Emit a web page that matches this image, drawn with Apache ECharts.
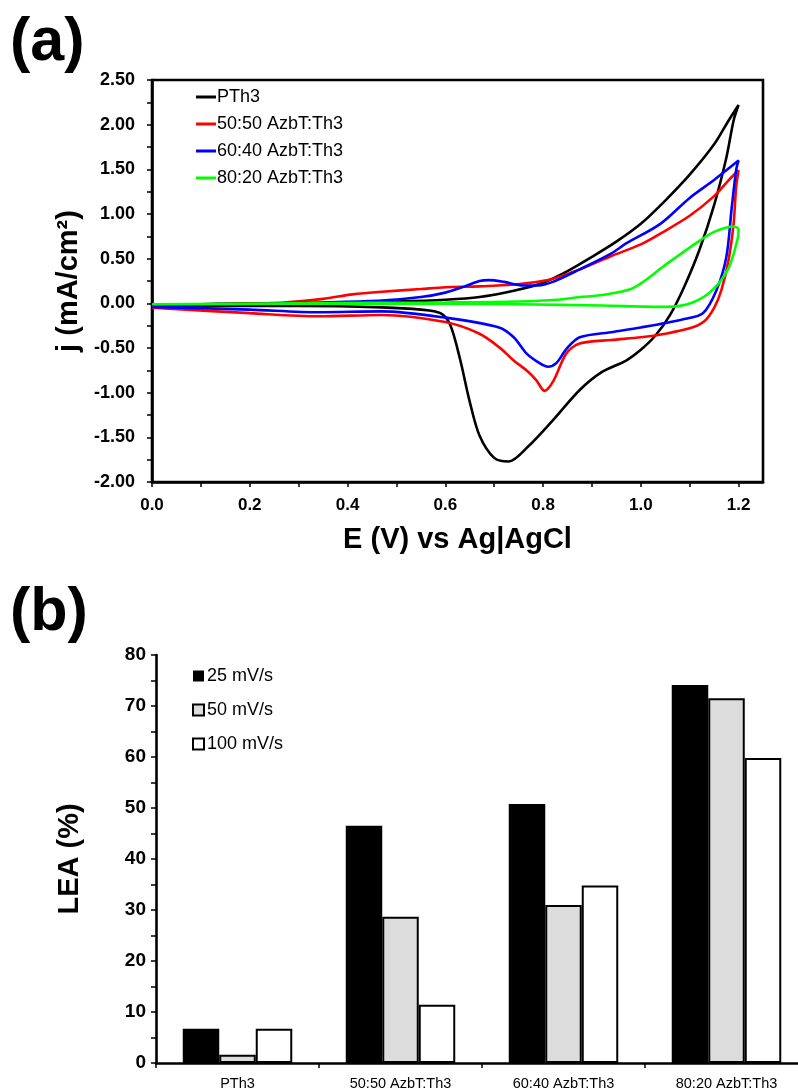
<!DOCTYPE html>
<html>
<head>
<meta charset="utf-8">
<script src="https://cdn.jsdelivr.net/npm/echarts@6/dist/echarts.min.js"></script>
<style>
html,body{margin:0;padding:0;background:#fff;}
#chart{width:798px;height:1092px;}
</style>
</head>
<body>
<div id="chart"></div>
<script>
// ---------- (a) cyclic voltammograms: [E (V), j (mA/cm2)] ----------
const pth3Loop = [
  [0.00,-0.03],[0.10,-0.01],[0.20,0.00],[0.30,0.00],[0.40,0.01],[0.50,0.02],[0.60,0.04],[0.67,0.07],
  [0.74,0.14],[0.80,0.23],[0.85,0.36],[0.90,0.52],[0.95,0.69],[1.00,0.89],[1.05,1.15],[1.10,1.44],
  [1.15,1.78],[1.18,2.05],[1.20,2.22],
  [1.19,2.05],[1.175,1.63],[1.15,1.10],[1.12,0.60],[1.09,0.20],[1.06,-0.13],[1.03,-0.36],[1.00,-0.52],
  [0.97,-0.64],[0.92,-0.77],[0.875,-0.97],[0.82,-1.31],[0.77,-1.60],[0.73,-1.77],[0.70,-1.73],
  [0.67,-1.48],[0.65,-1.10],[0.63,-0.62],[0.61,-0.24],[0.59,-0.11],[0.55,-0.07],[0.47,-0.045],
  [0.30,-0.03],[0.00,-0.03]
];
const azbt5050Loop = [
  [0.00,-0.03],[0.15,-0.01],[0.27,0.01],[0.35,0.05],[0.41,0.10],[0.47,0.13],[0.55,0.16],[0.60,0.18],
  [0.67,0.19],[0.74,0.21],[0.81,0.26],[0.875,0.38],[0.94,0.53],[1.00,0.66],[1.04,0.78],[1.10,0.98],
  [1.15,1.20],[1.18,1.38],[1.20,1.49],
  [1.195,1.30],[1.19,0.90],[1.18,0.50],[1.165,0.15],[1.15,-0.05],[1.13,-0.20],[1.10,-0.28],
  [1.05,-0.34],[1.00,-0.38],[0.94,-0.41],[0.875,-0.45],[0.848,-0.56],[0.82,-0.88],[0.803,-0.98],
  [0.786,-0.86],[0.766,-0.75],[0.74,-0.64],[0.71,-0.49],[0.67,-0.34],[0.60,-0.21],[0.47,-0.13],
  [0.34,-0.145],[0.20,-0.11],[0.00,-0.05]
];
const azbt6040Loop = [
  [0.00,-0.03],[0.20,-0.01],[0.35,0.01],[0.47,0.03],[0.55,0.07],[0.60,0.12],[0.64,0.19],[0.67,0.25],
  [0.69,0.26],[0.72,0.24],[0.76,0.20],[0.79,0.20],[0.82,0.24],[0.875,0.38],[0.94,0.56],[0.97,0.67],
  [1.04,0.89],[1.10,1.18],[1.15,1.38],[1.175,1.49],[1.20,1.60],
  [1.195,1.49],[1.186,1.07],[1.175,0.52],[1.155,0.15],[1.127,-0.11],[1.085,-0.18],[1.00,-0.27],
  [0.943,-0.32],[0.875,-0.38],[0.848,-0.51],[0.827,-0.67],[0.81,-0.71],[0.793,-0.67],[0.766,-0.56],
  [0.74,-0.38],[0.71,-0.27],[0.60,-0.16],[0.47,-0.09],[0.34,-0.10],[0.20,-0.07],[0.00,-0.04]
];
const azbt8020Loop = [
  [0.00,-0.01],[0.30,0.00],[0.60,0.01],[0.75,0.02],[0.83,0.04],[0.875,0.07],[0.916,0.09],[0.984,0.17],
  [1.055,0.45],[1.12,0.70],[1.15,0.80],[1.19,0.86],[1.20,0.83],
  [1.198,0.72],[1.18,0.40],[1.147,0.15],[1.106,0.01],[1.052,-0.04],[0.92,-0.025],[0.75,-0.01],
  [0.50,0.00],[0.00,-0.01]
];
const cvNames = ['PTh3','50:50 AzbT:Th3','60:40 AzbT:Th3','80:20 AzbT:Th3'];
const cvColors = ['#000000','#ff0000','#0000ff','#00ff00'];
const eTickValues = [0,0.1,0.2,0.3,0.4,0.5,0.6,0.7,0.8,0.9,1.0,1.1,1.2];
const eLabelValues = [0,0.2,0.4,0.6,0.8,1.0,1.2];
const jTickValues = [-2,-1.75,-1.5,-1.25,-1,-0.75,-0.5,-0.25,0,0.25,0.5,0.75,1,1.25,1.5,1.75,2,2.25,2.5];
const jLabelValues = [-2,-1.5,-1,-0.5,0,0.5,1,1.5,2,2.5];

// ---------- (b) LEA bar chart ----------
const leaCategories = ['PTh3','50:50 AzbT:Th3','60:40 AzbT:Th3','80:20 AzbT:Th3'];
const lea25 = [6.7, 46.5, 50.8, 74.1];
const lea50 = [1.6, 28.7, 31.0, 71.5];
const lea100 = [6.7, 11.4, 34.8, 59.8];
const scanNames = ['25 mV/s','50 mV/s','100 mV/s'];
const scanFills = ['#000000','#dcdcdc','#ffffff'];

const FONT = 'Liberation Sans, Arial, sans-serif';
const chart = echarts.init(document.getElementById('chart'));

const cvLoops = [pth3Loop, azbt5050Loop, azbt6040Loop, azbt8020Loop];
const cvSeries = cvLoops.map((d,i)=>({
  name: cvNames[i], type:'line', xAxisIndex:0, yAxisIndex:0,
  data: d, showSymbol:false, symbol:'none', smooth:0.3,
  lineStyle:{color:cvColors[i], width:2.6}, itemStyle:{color:cvColors[i]}, z:2+i
}));
const barData = [lea25, lea50, lea100];
const barSeries = barData.map((d,i)=>({
  name: scanNames[i], type:'bar', xAxisIndex:1, yAxisIndex:1,
  data:d, barWidth:36.5, barGap:'0%',
  itemStyle:{color:scanFills[i], borderColor:'#000', borderWidth: i===0?0:2}
}));

const option = {
  animation:false,
  backgroundColor:'#fff',
  textStyle:{fontFamily:FONT},
  graphic:[
    {type:'text', left:10, top:13, style:{text:'(a)', font:'bold 61px '+FONT, fill:'#000'}},
    {type:'text', left:10, top:583, style:{text:'(b)', font:'bold 61px '+FONT, fill:'#000'}}
  ],
  legend:[
    {data:cvNames.map(n=>({name:n, icon:'rect'})), orient:'vertical', left:196, top:88, padding:0,
     itemWidth:20, itemHeight:3, itemGap:9,
     textStyle:{fontSize:18, color:'#000', fontFamily:FONT, padding:[0,0,0,-4], lineHeight:18}},
    {data:scanNames.map(n=>({name:n, icon:'rect'})), orient:'vertical', left:192, top:667, padding:0,
     itemWidth:11, itemHeight:11, itemGap:16,
     textStyle:{fontSize:18, color:'#000', fontFamily:FONT, padding:[0,0,0,-2], lineHeight:18}}
  ],
  grid:[
    {left:152, top:80, right:35, bottom:610, show:true, borderColor:'#000', borderWidth:2.6,
     backgroundColor:'transparent', outerBoundsMode:'none', containLabel:false},
    {left:156, top:655, width:652, bottom:29, outerBoundsMode:'none', containLabel:false}
  ],
  xAxis:[
    {type:'value', gridIndex:0, min:0, max:1.25,
     name:'E (V) vs Ag|AgCl', nameLocation:'middle', nameGap:43,
     nameTextStyle:{fontSize:29, fontWeight:'bold', color:'#000', fontFamily:FONT},
     axisLine:{show:true, onZero:false, lineStyle:{color:'#000', width:2.6}},
     axisTick:{show:true, customValues:eTickValues, length:5, lineStyle:{color:'#000', width:1.5}},
     axisLabel:{customValues:eLabelValues, formatter:v=>v.toFixed(1), fontSize:17, fontWeight:'bold', color:'#000', margin:15, fontFamily:FONT},
     splitLine:{show:false}},
    {type:'category', gridIndex:1, data:leaCategories, boundaryGap:true,
     axisLine:{show:true, onZero:false, lineStyle:{color:'#000', width:2.6}},
     axisTick:{show:true, length:5, lineStyle:{color:'#000', width:1.5}},
     axisLabel:{fontSize:14.5, color:'#000', margin:13, fontFamily:FONT}}
  ],
  yAxis:[
    {type:'value', gridIndex:0, min:-2, max:2.5,
     name:'j (mA/cm²)', nameLocation:'middle', nameGap:68,
     nameTextStyle:{fontSize:29, fontWeight:'bold', color:'#000', fontFamily:FONT},
     axisLine:{show:true, onZero:false, lineStyle:{color:'#000', width:2.6}},
     axisTick:{show:true, customValues:jTickValues, length:5, lineStyle:{color:'#000', width:1.5}},
     axisLabel:{customValues:jLabelValues, formatter:v=>v.toFixed(2), fontSize:18, fontWeight:'bold', color:'#000', margin:17, fontFamily:FONT},
     splitLine:{show:false}},
    {type:'value', gridIndex:1, min:0, max:80, interval:10,
     name:'LEA (%)', nameLocation:'middle', nameGap:72,
     nameTextStyle:{fontSize:29, fontWeight:'bold', color:'#000', fontFamily:FONT},
     axisLine:{show:true, onZero:false, lineStyle:{color:'#000', width:2.6}},
     axisTick:{show:true, length:5, lineStyle:{color:'#000', width:1.5}},
     minorTick:{show:true, splitNumber:2, length:5, lineStyle:{color:'#000', width:1.5}},
     axisLabel:{fontSize:19, fontWeight:'bold', color:'#000', margin:10, fontFamily:FONT},
     splitLine:{show:false}}
  ],
  series: cvSeries.concat(barSeries)
};
chart.setOption(option);
</script>
</body>
</html>
